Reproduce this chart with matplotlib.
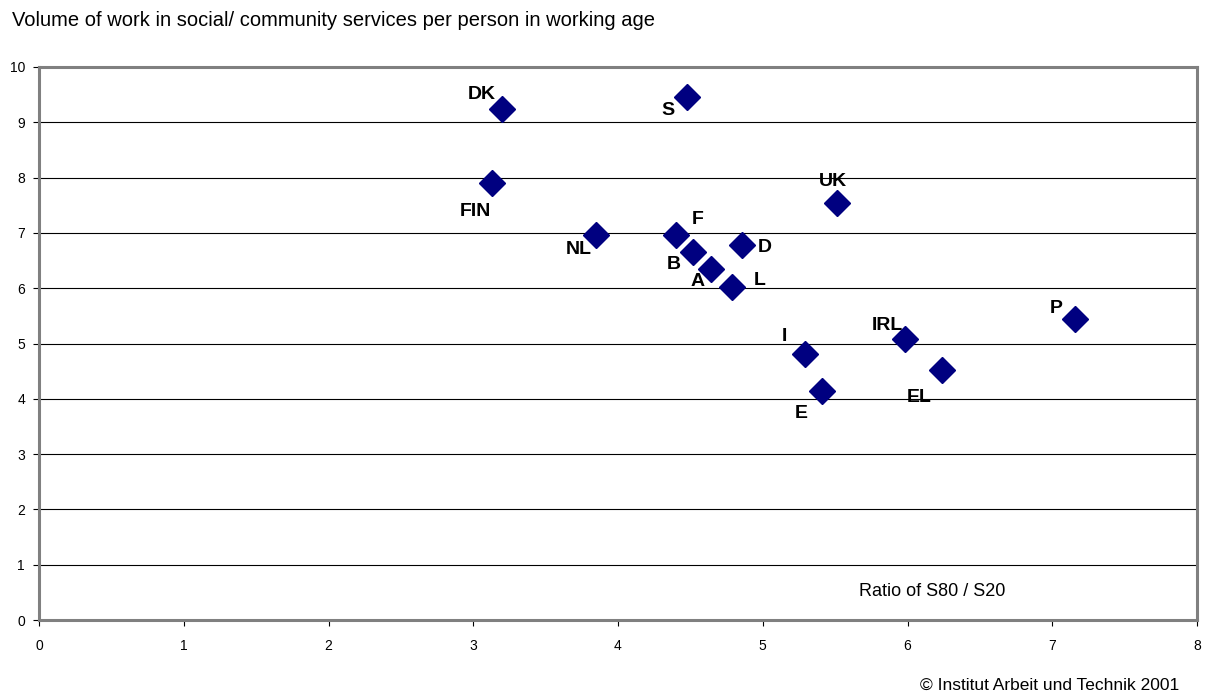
import matplotlib.pyplot as plt

plt.rcParams['font.family'] = ['Liberation Sans', 'DejaVu Sans']

# Länder und Werte
countries = ['DK', 'S', 'FIN', 'UK', 'NL', 'F', 'B', 'D', 'A', 'L', 'P', 'IRL', 'I', 'E', 'EL']
ratio = [3.20, 4.48, 3.13, 5.51, 3.85, 4.40, 4.52, 4.86, 4.64, 4.79, 7.16, 5.98, 5.29, 5.41, 6.24]
volume = [9.24, 9.46, 7.90, 7.54, 6.96, 6.96, 6.65, 6.78, 6.35, 6.02, 5.44, 5.08, 4.81, 4.14, 4.52]

# Beschriftungsversatz in Pixel
offsets = {'DK': (-20, 15), 'S': (-20, -14), 'FIN': (-17, -28), 'UK': (-4, 22),
           'NL': (-18, -14), 'F': (22, 16), 'B': (-20, -12), 'D': (22, -2),
           'A': (-13, -13), 'L': (27, 7), 'P': (-19, 11), 'IRL': (-17, 14),
           'I': (-20, 18), 'E': (-21, -22), 'EL': (-23, -27)}

fig = plt.figure(figsize=(12.05, 6.95), dpi=100)
ax = fig.add_axes([39 / 1205, 1 - 620 / 695, (1197 - 39) / 1205, (620 - 67) / 695])

ax.set_xlim(0, 8)
ax.set_ylim(0, 10)
ax.set_xticks(range(0, 9))
ax.set_yticks(range(0, 11))
for y in range(1, 10):
    ax.axhline(y, color='black', lw=0.8, zorder=1)

ax.plot(ratio, volume, 'D', color='#000080', ms=13, mec='#000080', zorder=3, clip_on=False)
for c, x, y in zip(countries, ratio, volume):
    dx, dy = offsets[c]
    ax.annotate(c, (x, y), xytext=(dx, dy), textcoords='offset pixels',
                ha='center', va='center', fontsize=14, fontweight='bold', zorder=4)

for s in ax.spines.values():
    s.set_color('#808080')
    s.set_linewidth(2.2)
ax.axhline(0, color='black', lw=0.8, zorder=2, clip_on=False)
ax.tick_params(labelsize=10, length=4, width=0.8, color='black')
ax.tick_params(axis='x', pad=10)
ax.tick_params(axis='y', pad=6)

ax.text(932 / 1205, 1 - 592 / 695, 'Ratio of S80 / S20', transform=fig.transFigure,
        ha='center', va='center', fontsize=13)
fig.text(12 / 1205, 1 - 20 / 695, 'Volume of work in social/ community services per person in working age',
         ha='left', va='center', fontsize=14.5)
fig.text(1179 / 1205, 1 - 685 / 695, '© Institut Arbeit und Technik 2001',
         ha='right', va='center', fontsize=12.5)

fig.savefig('out.png', dpi=100)
